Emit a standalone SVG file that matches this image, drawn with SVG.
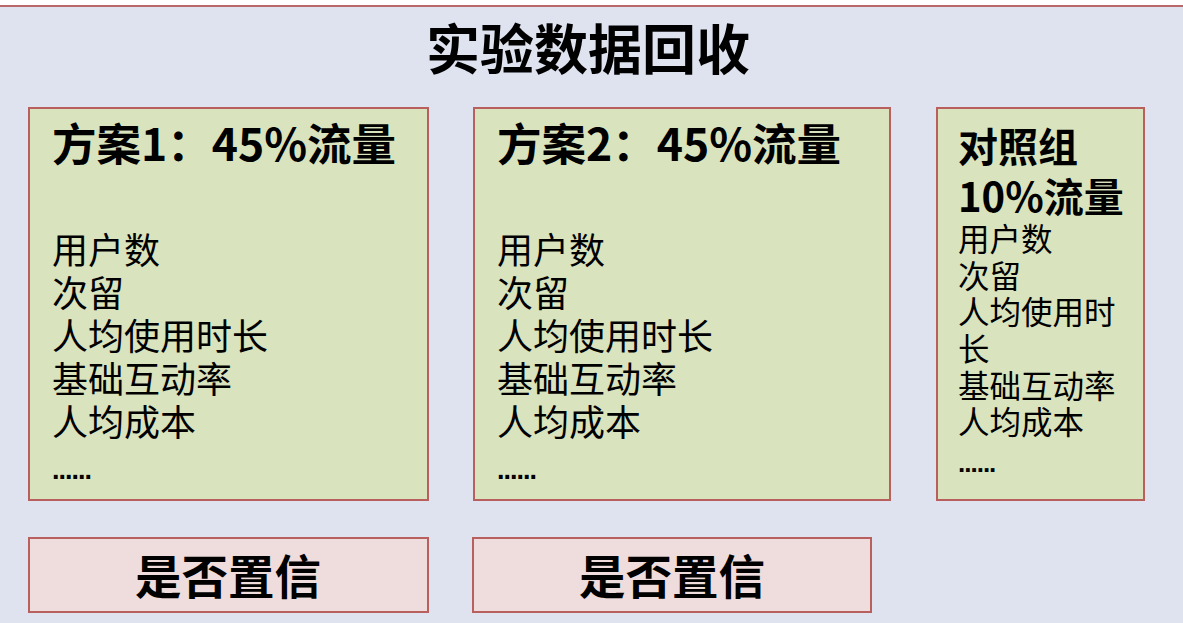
<svg xmlns="http://www.w3.org/2000/svg" width="1183" height="623" viewBox="0 0 1183 623">
<style>
.box{fill:#d9e3be;stroke:#b9605f;stroke-width:2}
.pbox{fill:#efdcdc;stroke:#b9605f;stroke-width:2}
text{font-family:"Noto Sans CJK SC","Liberation Sans",sans-serif;fill:#000}
.title{font-size:54px;font-weight:bold}
.hd{font-size:44.5px;font-weight:bold}
.hd3{font-size:40px;font-weight:bold}
.body{font-size:36px}
.body3{font-size:31.5px}
.dots{font-family:"Liberation Sans",sans-serif;font-size:27px;font-weight:bold;letter-spacing:-1px}
.dots3{font-family:"Liberation Sans",sans-serif;font-size:26px;font-weight:bold;letter-spacing:-1px}
.conf{font-size:46.5px;font-weight:bold}
</style>
<rect x="0" y="0" width="1183" height="623" fill="#ffffff"/>
<rect x="0" y="6" width="1183" height="617" fill="#dee3ef"/>
<line x1="0" y1="6" x2="1183" y2="6" stroke="#b9696b" stroke-width="2"/>
<g id="title"><text class="title" x="588" y="70" text-anchor="middle">实验数据回收</text></g>
<g id="plan1">
<rect class="box" x="29" y="108" width="399" height="392"/>
<text class="hd" x="52" y="161">方案1：45%流量</text>
<text class="body" x="52" y="264">用户数</text>
<text class="body" x="52" y="307">次留</text>
<text class="body" x="52" y="350">人均使用时长</text>
<text class="body" x="52" y="393">基础互动率</text>
<text class="body" x="52" y="436">人均成本</text>
<text class="dots" x="52" y="479">......</text>
</g>
<g id="plan2">
<rect class="box" x="474" y="108" width="416" height="392"/>
<text class="hd" x="497" y="161">方案2：45%流量</text>
<text class="body" x="497" y="264">用户数</text>
<text class="body" x="497" y="307">次留</text>
<text class="body" x="497" y="350">人均使用时长</text>
<text class="body" x="497" y="393">基础互动率</text>
<text class="body" x="497" y="436">人均成本</text>
<text class="dots" x="497" y="479">......</text>
</g>
<g id="control">
<rect class="box" x="937" y="108" width="207" height="392"/>
<text class="hd3" x="958" y="162">对照组</text>
<text class="hd3" x="958" y="212">10%流量</text>
<text class="body3" x="958" y="251">用户数</text>
<text class="body3" x="958" y="288">次留</text>
<text class="body3" x="958" y="324">人均使用时</text>
<text class="body3" x="958" y="361">长</text>
<text class="body3" x="958" y="398">基础互动率</text>
<text class="body3" x="958" y="434">人均成本</text>
<text class="dots3" x="958" y="472">......</text>
</g>
<g id="conf1">
<rect class="pbox" x="29" y="538" width="399" height="74"/>
<text class="conf" x="228" y="594" text-anchor="middle">是否置信</text>
</g>
<g id="conf2">
<rect class="pbox" x="473" y="538" width="398" height="74"/>
<text class="conf" x="672" y="594" text-anchor="middle">是否置信</text>
</g>
<g id="connectors"></g>
</svg>
